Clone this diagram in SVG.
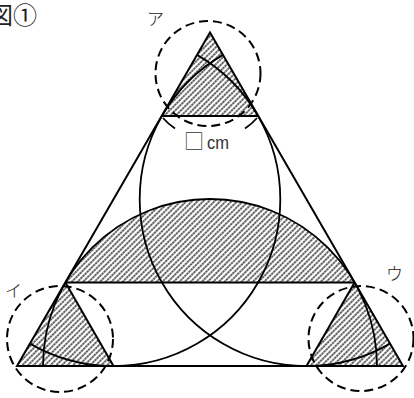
<svg xmlns="http://www.w3.org/2000/svg" width="414" height="398" viewBox="0 0 414 398">
<style>
.ln{fill:none;stroke:#000;stroke-width:2;stroke-linejoin:miter}
.arc{fill:none;stroke:#000;stroke-width:1.8}
.dash{fill:none;stroke:#000;stroke-width:2;stroke-dasharray:9 5}
.hatch{fill:url(#hp);stroke:none}
.lbl{font-family:"Noto Sans CJK JP","Noto Sans",sans-serif;font-size:17px;fill:#222;font-weight:300}
</style>
<defs>
<pattern id="hp" patternUnits="userSpaceOnUse" width="4" height="6" patternTransform="rotate(45)">
<line x1="2" y1="0" x2="2" y2="6" stroke="#111" stroke-width="1.3" stroke-dasharray="2.5 0.5"/>
</pattern>
</defs>
<rect width="414" height="398" fill="#fff"/>
<g id="title"><text x="-11" y="24" font-family="Noto Sans CJK JP,sans-serif" font-size="24" fill="#222">図①</text></g>
<g id="hatched">
<polygon class="hatch" points="210,32.5 161.8,115.9 258.2,115.9"/>
<polygon class="hatch" points="17,366 65.4,282.4 113.5,366"/>
<polygon class="hatch" points="403,366 354.6,282.4 306.5,366"/>
<path class="hatch" d="M65.4,282.4 A167,167 0 0 1 354.6,282.4 Z"/>
</g>
<g id="connectors">
<polygon class="ln" points="210,32.5 17,366 403,366"/>
<line class="ln" x1="161.8" y1="115.9" x2="258.2" y2="115.9"/>
<line class="ln" x1="65.4" y1="282.4" x2="354.6" y2="282.4"/>
<line class="ln" x1="65.4" y1="282.4" x2="113.5" y2="366"/>
<line class="ln" x1="354.6" y1="282.4" x2="306.5" y2="366"/>
<path class="arc" d="M43,366 A167,167 0 0 1 377,366"/>
<path class="arc" d="M197.05,54.85 A166.8,166.8 0 0 1 280.3,199.25 A166.8,166.8 0 0 1 29.95,343.65"/>
<path class="arc" d="M222.95,54.85 A166.8,166.8 0 0 0 139.7,199.25 A166.8,166.8 0 0 0 390.05,343.65"/>
<path class="arc" d="M163,118 A59,59 0 0 0 175,128.5"/>
<path class="arc" d="M257,118 A59,59 0 0 1 245,128.5"/>
</g>
<g id="node-a"><circle class="dash" cx="208" cy="73.5" r="52.5"/><text class="lbl" x="147" y="25">ア</text></g>
<g id="node-i"><circle class="dash" cx="60" cy="339" r="53"/><text class="lbl" x="5" y="297">イ</text></g>
<g id="node-u"><circle class="dash" cx="361" cy="338.5" r="52.5"/><text class="lbl" x="386" y="280">ウ</text></g>
<g id="label-cm"><text x="184" y="149" font-family="Noto Sans CJK JP,sans-serif" font-size="20" fill="#333" font-weight="300">□<tspan font-family="Liberation Sans,sans-serif" font-size="19" dx="3" textLength="22" lengthAdjust="spacingAndGlyphs">cm</tspan></text></g>
</svg>
